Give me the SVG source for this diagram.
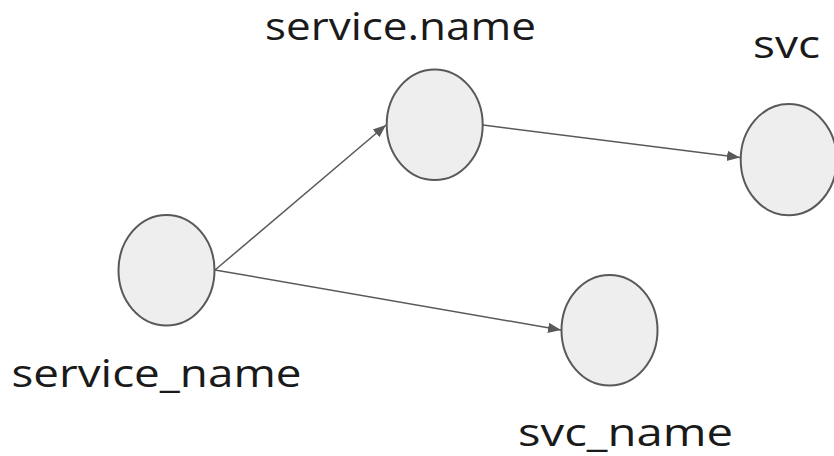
<svg xmlns="http://www.w3.org/2000/svg" width="834" height="456" viewBox="0 0 834 456">
<style>
.node{fill:#eeeeee;stroke:#595959;stroke-width:2}
.edge{stroke:#595959;stroke-width:1.5;fill:none}
.lbl{font-family:"Open Sans","Liberation Sans",sans-serif;font-size:38px;fill:#1a1a1a}
</style>
<defs>
<marker id="arrL" viewBox="0 0 10 10" refX="10" refY="5" markerWidth="13" markerHeight="13" markerUnits="userSpaceOnUse" orient="auto">
<path d="M0,1 L10,5 L0,9 z" fill="#595959"/>
</marker>
</defs>
<rect width="834" height="456" fill="#ffffff"/>
<g id="connectors">
<line class="edge" x1="215" y1="270" x2="386" y2="125" marker-end="url(#arrL)"/>
<line class="edge" x1="215" y1="270" x2="561" y2="330" marker-end="url(#arrL)"/>
<line class="edge" x1="483" y1="125" x2="740" y2="157.5" marker-end="url(#arrL)"/>
</g>
<g id="node-service_name">
<ellipse class="node" cx="166.5" cy="270.3" rx="48" ry="55.3"/>
<text class="lbl" x="11.5" y="386.5" textLength="290" lengthAdjust="spacingAndGlyphs">service_name</text>
</g>
<g id="node-service.name">
<ellipse class="node" cx="434.7" cy="124.7" rx="48" ry="55.3"/>
<text class="lbl" x="265" y="39.5" textLength="271" lengthAdjust="spacingAndGlyphs">service.name</text>
</g>
<g id="node-svc">
<ellipse class="node" cx="788.7" cy="159.7" rx="48" ry="55.6"/>
<text class="lbl" x="753" y="58" textLength="67" lengthAdjust="spacingAndGlyphs">svc</text>
</g>
<g id="node-svc_name">
<ellipse class="node" cx="609.5" cy="330.3" rx="48" ry="55.3"/>
<text class="lbl" x="518" y="446" textLength="215" lengthAdjust="spacingAndGlyphs">svc_name</text>
</g>
</svg>
